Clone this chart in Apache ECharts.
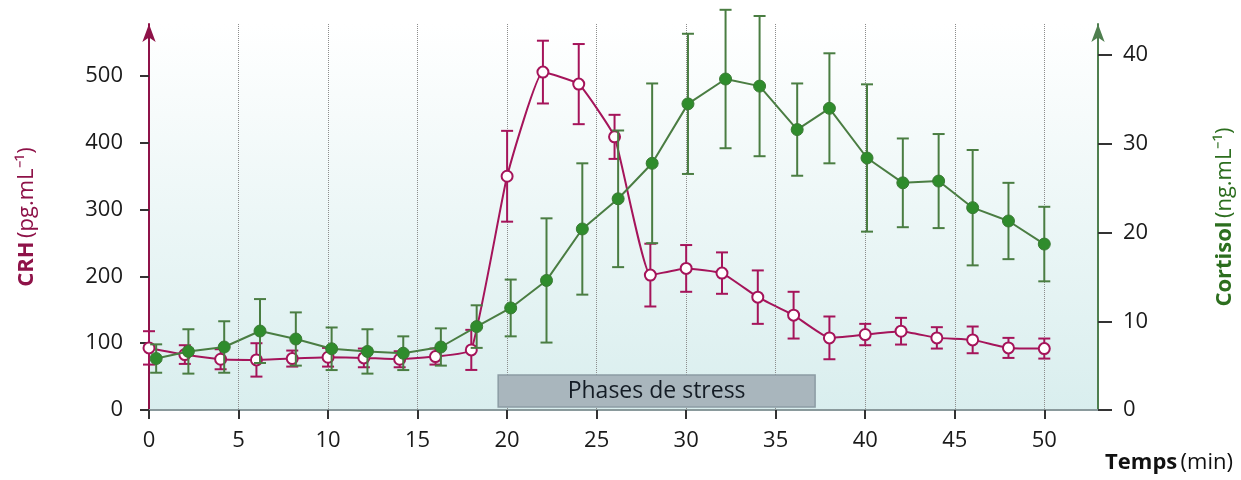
<!DOCTYPE html>
<html>
<head>
<meta charset="utf-8">
<script src="https://cdn.jsdelivr.net/npm/echarts@6/dist/echarts.min.js"></script>
<style>
html,body{margin:0;padding:0;background:#fff;}
#chart{width:1241px;height:480px;}
</style>
</head>
<body>
<div id="chart"></div>
<script>
// ---- data ----
const crhTime  = [0,2,4,6,8,10,12,14,16,18,20,22,24,26,28,30,32,34,36,38,40,42,44,46,48,50];
const crhValue = [93,83,76,75,77,79,78,76,80,90,350,506,488,409,202,212,205,169,142,108,113,118,108,105,93,92];
const crhErr   = [25,14,15,25,12,14,14,12,12,30,68,47,60,33,47,35,31,40,35,32,16,20,16,20,15,15];

const cortTime  = [0.4,2.2,4.2,6.2,8.2,10.2,12.2,14.2,16.3,18.3,20.2,22.2,24.2,26.2,28.1,30.1,32.2,34.1,36.2,38,40.1,42.1,44.1,46,48,50];
const cortValue = [5.8,6.6,7.1,8.9,8.0,6.9,6.6,6.4,7.1,9.4,11.5,14.6,20.4,23.8,27.8,34.5,37.3,36.5,31.6,34.0,28.4,25.6,25.8,22.8,21.3,18.7];
const cortErr   = [1.6,2.5,2.9,3.6,3.0,2.4,2.5,1.9,2.1,2.4,3.2,7.0,7.4,7.7,9.0,7.9,7.8,7.9,5.2,6.2,8.3,5.0,5.3,6.5,4.3,4.2];

const xTicks    = [0,5,10,15,20,25,30,35,40,45,50];
const crhTicks  = [0,100,200,300,400,500];
const cortTicks = [0,10,20,30,40];

const stressPhase = [19.5, 37.2];
const stressLabel = 'Phases de stress';

// ---- styling ----
const FONT = 'Open Sans';
const CRH_COLOR = '#a5145a';
const CRH_AXIS = '#8e1248';
const CORT_LINE = '#4a7d42';
const CORT_FILL = '#2f8c2c';
const CORT_AXIS = '#4f7f4f';

const chart = echarts.init(document.getElementById('chart'), null, {renderer: 'canvas'});

function errRender(color, cap) {
  return function (params, api) {
    const x = api.value(0), y = api.value(1), e = api.value(2);
    const hi = api.coord([x, y + e]);
    const lo = api.coord([x, y - e]);
    const s = {stroke: color, lineWidth: 2};
    return {
      type: 'group',
      children: [
        {type: 'line', shape: {x1: hi[0], y1: hi[1], x2: lo[0], y2: lo[1]}, style: s},
        {type: 'line', shape: {x1: hi[0] - cap, y1: hi[1], x2: hi[0] + cap, y2: hi[1]}, style: s},
        {type: 'line', shape: {x1: lo[0] - cap, y1: lo[1], x2: lo[0] + cap, y2: lo[1]}, style: s}
      ]
    };
  };
}

const crhLine = crhTime.map((t, i) => [t, crhValue[i]]);
const crhBars = crhTime.map((t, i) => [t, crhValue[i], crhErr[i]]);
const cortLine = cortTime.map((t, i) => [t, cortValue[i]]);
const cortBars = cortTime.map((t, i) => [t, cortValue[i], cortErr[i]]);

const option = {
  backgroundColor: '#ffffff',
  animation: false,
  grid: {
    left: 149, right: 143, top: 24, bottom: 70,
    outerBoundsMode: 'none', containLabel: false,
    show: true, borderWidth: 0,
    backgroundColor: new echarts.graphic.LinearGradient(0, 0, 0, 1, [
      {offset: 0, color: '#ffffff'},
      {offset: 1, color: '#d9eeee'}
    ])
  },
  xAxis: {
    type: 'value', min: 0, max: 53, interval: 5,
    axisLine: {show: true, onZero: false, lineStyle: {color: '#8a9a9c', width: 2}},
    axisTick: {show: true, length: 9, lineStyle: {color: '#333', width: 2}, customValues: xTicks},
    axisLabel: {show: true, margin: 20, fontSize: 22, color: '#1a1a1a', fontFamily: FONT, customValues: xTicks},
    splitLine: {show: true, lineStyle: {color: '#8c8c8c', width: 1, type: 'dotted'}}
  },
  yAxis: [
    {
      type: 'value', min: 0, max: 578, position: 'left',
      name: '{b|CRH} {n|(pg.mL⁻¹)}', nameLocation: 'middle', nameRotate: 90, nameGap: 111,
      nameTextStyle: {
        rich: {
          b: {fontFamily: FONT, fontSize: 22, fontWeight: 'bold', color: CRH_AXIS},
          n: {fontFamily: FONT, fontSize: 22, color: CRH_AXIS}
        }
      },
      axisLine: {show: true, lineStyle: {color: CRH_AXIS, width: 2}, symbol: ['none', 'arrow'], symbolSize: [10, 18]},
      axisTick: {show: true, length: 9, lineStyle: {color: '#333', width: 2}, customValues: crhTicks},
      axisLabel: {margin: 26, fontSize: 22, color: '#1a1a1a', fontFamily: FONT, customValues: crhTicks},
      splitLine: {show: false}
    },
    {
      type: 'value', min: 0, max: 43.5, position: 'right',
      name: '{b|Cortisol} {n|(ng.mL⁻¹)}', nameLocation: 'middle', nameRotate: 90, nameGap: 116,
      nameTextStyle: {
        rich: {
          b: {fontFamily: FONT, fontSize: 22, fontWeight: 'bold', color: '#2c6e1e'},
          n: {fontFamily: FONT, fontSize: 22, color: '#2c6e1e'}
        }
      },
      axisLine: {show: true, lineStyle: {color: CORT_AXIS, width: 2}, symbol: ['none', 'arrow'], symbolSize: [10, 18]},
      axisTick: {show: true, length: 14, lineStyle: {color: '#333', width: 2}, customValues: cortTicks},
      axisLabel: {margin: 25, fontSize: 22, color: '#1a1a1a', fontFamily: FONT, customValues: cortTicks},
      splitLine: {show: false}
    }
  ],
  graphic: [
    {
      type: 'text', right: 8, top: 452,
      style: {
        text: '{b|Temps} {n|(min)}',
        rich: {
          b: {fontFamily: FONT, fontSize: 22, fontWeight: 'bold', fill: '#111'},
          n: {fontFamily: FONT, fontSize: 22, fill: '#111'}
        }
      }
    }
  ],
  series: [
    {
      type: 'custom', name: 'stress', xAxisIndex: 0, yAxisIndex: 0, z: 1, clip: false,
      data: [[stressPhase[0], stressPhase[1]]],
      renderItem: function (params, api) {
        const a = api.coord([api.value(0), 0]);
        const b = api.coord([api.value(1), 0]);
        const y1 = a[1] - 35, y2 = a[1] - 3;
        return {
          type: 'group',
          children: [
            {type: 'rect', shape: {x: a[0], y: y1, width: b[0] - a[0], height: y2 - y1},
             style: {fill: '#a9b6bd', stroke: '#8c9ca4', lineWidth: 1.5}},
            {type: 'text', style: {text: stressLabel, x: (a[0] + b[0]) / 2, y: (y1 + y2) / 2,
              align: 'center', verticalAlign: 'middle', fontFamily: FONT, fontSize: 23, fill: '#141c25'}}
          ]
        };
      }
    },
    {
      type: 'custom', name: 'CRH err', xAxisIndex: 0, yAxisIndex: 0, z: 3, clip: false,
      data: crhBars, encode: {x: 0, y: [1]},
      renderItem: errRender(CRH_COLOR, 6)
    },
    {
      type: 'line', name: 'CRH', xAxisIndex: 0, yAxisIndex: 0, z: 4,
      data: crhLine, smooth: 0.12,
      lineStyle: {color: CRH_COLOR, width: 2},
      symbol: 'circle', symbolSize: 11,
      itemStyle: {color: '#ffffff', borderColor: CRH_COLOR, borderWidth: 2}
    },
    {
      type: 'custom', name: 'Cortisol err', xAxisIndex: 0, yAxisIndex: 1, z: 5, clip: false,
      data: cortBars, encode: {x: 0, y: [1]},
      renderItem: errRender(CORT_LINE, 6)
    },
    {
      type: 'line', name: 'Cortisol', xAxisIndex: 0, yAxisIndex: 1, z: 6,
      data: cortLine,
      lineStyle: {color: CORT_LINE, width: 2},
      symbol: 'circle', symbolSize: 12,
      itemStyle: {color: CORT_FILL, borderColor: '#3a7a34', borderWidth: 1}
    }
  ]
};
chart.setOption(option);
</script>
</body>
</html>
